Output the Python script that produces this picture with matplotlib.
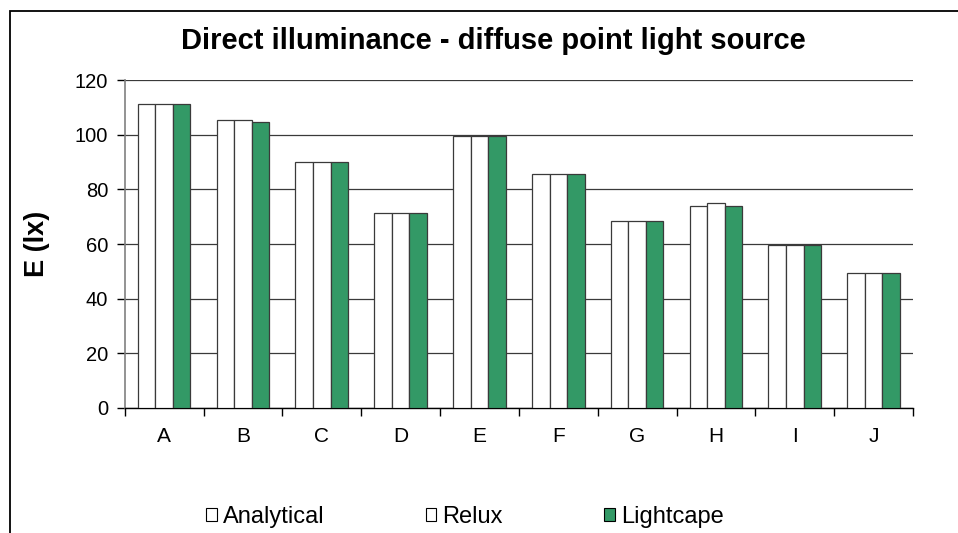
import matplotlib

matplotlib.use("Agg")

import matplotlib.pyplot as plt
import numpy as np
from matplotlib.patches import Patch, Rectangle

categories = ["A", "B", "C", "D", "E", "F", "G", "H", "I", "J"]
analytical = [111.4, 105.5, 90.2, 71.3, 99.7, 85.8, 68.3, 74.1, 59.7, 49.3]
relux = [111.4, 105.5, 90.2, 71.3, 99.7, 85.8, 68.3, 74.9, 59.7, 49.3]
lightcape = [111.4, 104.6, 90.2, 71.3, 99.7, 85.8, 68.3, 74.1, 59.7, 49.3]
series_names = ["Analytical", "Relux", "Lightcape"]
series_colors = ["white", "white", "#339966"]
yticks = [0, 20, 40, 60, 80, 100, 120]

plt.rcParams["font.family"] = ["Liberation Sans", "DejaVu Sans"]

W, H = 958, 533
fig = plt.figure(figsize=(W / 100, H / 100), dpi=100)
ax = fig.add_axes([124.7 / W, 1 - 407.7 / H, (913 - 124.7) / W, (407.7 - 80.3) / H])

# outer chart border (runs off the bottom/right of the image)
fig.patches.append(Rectangle((10 / W, -0.2), 1.2, 1 - 11 / H + 0.2,
                             transform=fig.transFigure, fill=False,
                             edgecolor="black", linewidth=1.3))

x = np.arange(len(categories))
bw = 1 / 4.5
for i, (vals, color) in enumerate(zip([analytical, relux, lightcape], series_colors)):
    ax.bar(x + (i - 1) * bw, vals, width=bw, color=color,
           edgecolor="#3a3a3a", linewidth=0.9, zorder=3)

ax.set_xlim(-0.5, len(categories) - 0.5)
ax.set_ylim(0, 120)
ax.set_yticks(yticks)
ax.yaxis.grid(True, color="#3a3a3a", linewidth=0.9, zorder=0)
ax.set_axisbelow(True)

ax.set_xticks(x)
ax.set_xticklabels(categories, fontsize=15)
ax.set_xticks(np.arange(-0.5, len(categories)), minor=True)
ax.tick_params(axis="x", which="major", length=0, pad=14)
ax.tick_params(axis="x", which="minor", length=6, width=1, direction="out")
ax.tick_params(axis="y", length=6, width=1, direction="out", labelsize=14.5, pad=6)

for side in ("top", "right"):
    ax.spines[side].set_visible(False)
ax.spines["left"].set_color("#808080")
ax.spines["left"].set_linewidth(1.2)
ax.spines["bottom"].set_color("black")
ax.spines["bottom"].set_linewidth(1.0)

fig.text(493 / W, 1 - 41 / H, "Direct illuminance - diffuse point light source",
         ha="center", va="center", fontsize=21, fontweight="bold")
fig.text(37 / W, 1 - 244 / H, "E (lx)", ha="center", va="center",
         rotation=90, fontsize=19.5, fontweight="bold")

handles = [Patch(facecolor=c, edgecolor="black", linewidth=0.8) for c in series_colors]
fig.legend(handles, series_names, loc="center left", bbox_to_anchor=(206 / W, 1 - 517 / H),
           ncol=3, frameon=False, fontsize=17, handlelength=0.45, handleheight=0.45,
           handletextpad=0.25, columnspacing=4.3, borderpad=0, borderaxespad=0)

fig.savefig("out.png", dpi=100)
plt.close(fig)
